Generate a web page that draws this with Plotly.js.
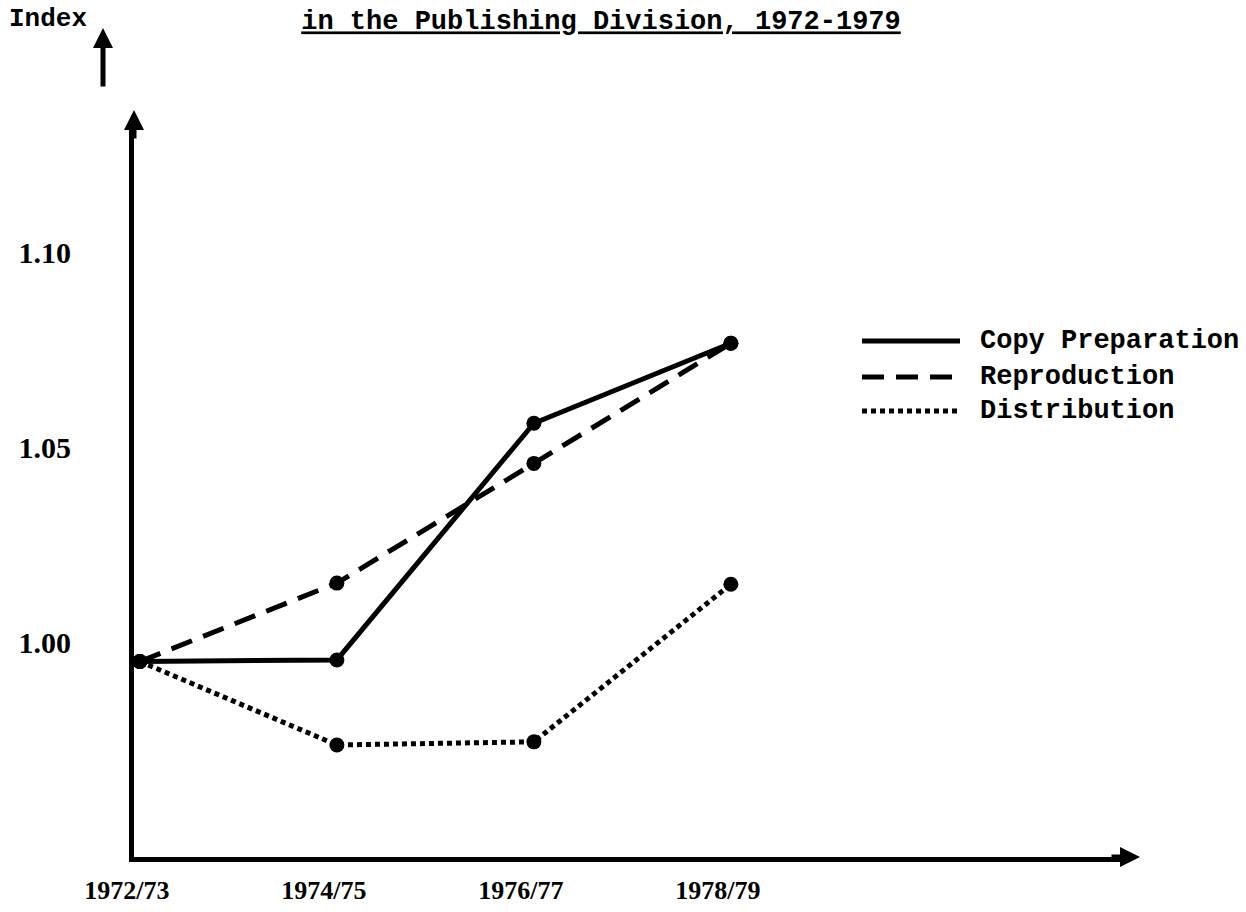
<!DOCTYPE html>
<html>
<head>
<meta charset="utf-8">
<script src="https://cdn.plot.ly/plotly-3.0.1.min.js"></script>
<style>html,body{margin:0;padding:0;background:#fff;}</style>
</head>
<body>
<div id="chart" style="width:1246px;height:912px;"></div>
<script>
// ---- data ----
var periods = ['1972/73', '1974/75', '1976/77', '1978/79'];
var periodIndex = [0, 1, 2, 3];
var copyPreparation = [0.995, 0.9954, 1.0561, 1.0766];
var reproduction = [0.995, 1.0151, 1.0458, 1.0766];
var distribution = [0.995, 0.9736, 0.9744, 1.0148];
var yTickVals = [1.00, 1.05, 1.10];
var yTickText = ['1.00', '1.05', '1.10'];
var seriesNames = ['Copy Preparation', 'Reproduction', 'Distribution'];

var mono = 'Liberation Mono, Courier New, monospace';
var serif = 'Liberation Serif, DejaVu Serif, serif';
var dashes = ['solid', '22px,12px', '5px,4px'];
var seriesData = [copyPreparation, reproduction, distribution];

var traces = seriesData.map(function (vals, i) {
  return {
    x: periodIndex,
    y: vals,
    type: 'scatter',
    mode: 'lines+markers',
    name: seriesNames[i],
    showlegend: false,
    line: {color: '#000', width: 5, dash: dashes[i]},
    marker: {color: '#000', size: 15, symbol: 'circle'}
  };
});

// plot area pixel geometry
var L = 134, R = 1128, T = 120, B = 857;
function px(x) { return (x - L) / (R - L); }
function py(y) { return (B - y) / (B - T); }

var shapes = [];
var annotations = [];
var legendY = [341, 377, 411];
seriesNames.forEach(function (n, i) {
  shapes.push({
    type: 'line', xref: 'paper', yref: 'paper',
    x0: px(862), x1: px(960), y0: py(legendY[i]), y1: py(legendY[i]),
    line: {color: '#000', width: 5, dash: dashes[i]}
  });
  annotations.push({
    xref: 'paper', yref: 'paper', x: px(978), y: py(legendY[i]),
    xanchor: 'left', yanchor: 'middle', showarrow: false,
    text: '<b>' + n + '</b>',
    font: {family: mono, size: 27, color: '#000'}
  });
});

// "Index" label and its arrow
annotations.push({
  xref: 'paper', yref: 'paper', x: px(48), y: py(19),
  xanchor: 'center', yanchor: 'middle', showarrow: false,
  text: '<b>Index</b>', font: {family: mono, size: 26, color: '#000'}
});
annotations.push({
  xref: 'paper', yref: 'paper', x: px(103), y: py(28),
  ax: 0, ay: 60, showarrow: true, arrowhead: 2, arrowsize: 0.8,
  arrowwidth: 5, arrowcolor: '#000', text: ''
});
// axis arrowheads
annotations.push({
  xref: 'paper', yref: 'paper', x: 0, y: py(110),
  ax: 0, ay: 30, showarrow: true, arrowhead: 2, arrowsize: 0.8,
  arrowwidth: 5, arrowcolor: '#000', text: ''
});
annotations.push({
  xref: 'paper', yref: 'paper', x: px(1140), y: 0,
  ax: -30, ay: 0, showarrow: true, arrowhead: 2, arrowsize: 0.8,
  arrowwidth: 5, arrowcolor: '#000', text: ''
});

var layout = {
  width: 1246, height: 912,
  paper_bgcolor: '#fff', plot_bgcolor: '#fff',
  margin: {l: L, r: 1246 - R, t: T, b: 912 - B, pad: 0},
  showlegend: false,
  title: {
    text: '<b><u>in the Publishing Division, 1972-1979</u></b>',
    font: {family: mono, size: 27, color: '#000'},
    xref: 'container', yref: 'container',
    x: 601 / 1246, xanchor: 'center', y: 1 - 20 / 912, yanchor: 'middle'
  },
  xaxis: {
    range: [-0.03, 5.016],
    tickvals: periodIndex, ticktext: periods,
    showgrid: false, zeroline: false,
    showline: true, linewidth: 5, linecolor: '#000',
    ticks: '', ticklabelstandoff: 6, ticklabelshift: -13,
    tickfont: {family: serif, size: 26, color: '#000', weight: 'bold'}
  },
  yaxis: {
    range: [1.0 - (B - 642) / 3900, 1.0 + (642 - T) / 3900],
    tickvals: yTickVals, ticktext: yTickText,
    showgrid: false, zeroline: false,
    showline: true, linewidth: 5, linecolor: '#000',
    ticks: '', ticklabelstandoff: 52,
    tickfont: {family: serif, size: 30, color: '#000', weight: 'bold'}
  },
  shapes: shapes,
  annotations: annotations
};

Plotly.newPlot('chart', traces, layout, {displayModeBar: false, staticPlot: true});
</script>
</body>
</html>
